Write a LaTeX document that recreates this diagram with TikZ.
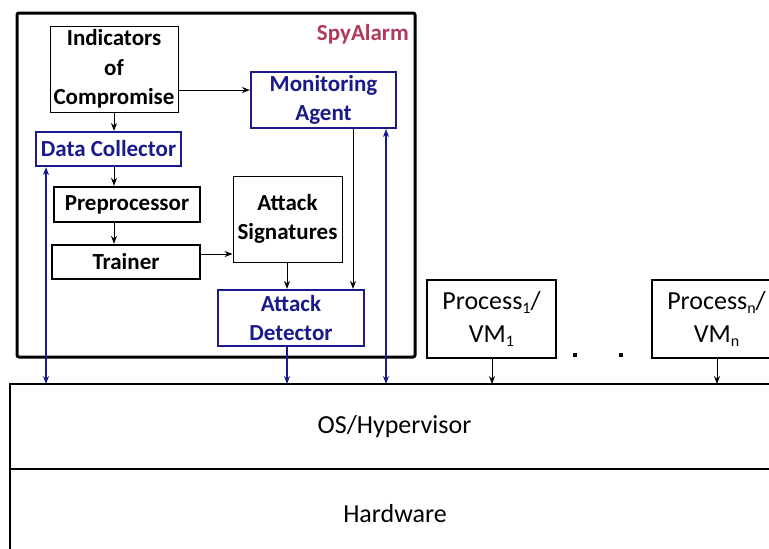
\documentclass[tikz,border=0pt]{standalone}
\usepackage{fontspec}
\setmainfont{Carlito}
\usetikzlibrary{arrows.meta}
\definecolor{navy}{RGB}{26,26,140}
\definecolor{spy}{RGB}{176,58,91}
\newcommand{\lowidx}[1]{\raisebox{-4.5pt}{\fontsize{16}{16}\selectfont #1}}
\tikzset{
  lbl/.style={font=\bfseries\fontsize{23}{29.5}\selectfont, align=center, inner sep=0pt},
  thinbox/.style={draw=black, line width=0.9pt, rectangle, lbl},
  bluebox/.style={draw=navy, line width=2.2pt, rectangle, lbl, text=navy},
  blackbox/.style={draw=black, line width=2.4pt, rectangle, lbl},
  procbox/.style={draw=black, line width=2pt, rectangle, align=center, inner sep=0pt,
    font=\fontsize{26}{33}\selectfont},
  layertext/.style={font=\fontsize{26}{30}\selectfont, inner sep=0pt},
  arr/.style={-{Stealth[length=8pt,width=6pt]}, line width=0.9pt, black},
  barr/.style={-{Stealth[length=8pt,width=6pt]}, line width=1.1pt, navy},
  bdarr/.style={{Stealth[length=8pt,width=6pt]}-{Stealth[length=8pt,width=6pt]}, line width=1.1pt, navy},
}
\begin{document}
\begin{tikzpicture}[x=1pt,y=1pt]
\clip (0,0) rectangle (769,-549);
\fill[white] (0,0) rectangle (769,-549);

% SpyAlarm enclosure
\draw[line width=3pt, rounded corners=2pt] (17,-13) rectangle (415,-357);
\node[font=\bfseries\fontsize{23}{26}\selectfont, text=spy, anchor=east, inner sep=0pt] (title) at (409,-34) {SpyAlarm};

% components
\node[thinbox, minimum width=128pt, minimum height=86pt] (ioc) at (114,-69) {Indicators\\of\\Compromise};
\node[bluebox, minimum width=145pt, minimum height=56pt] (ma) at (323.5,-100) {Monitoring\\Agent};
\node[bluebox, minimum width=145pt, minimum height=34pt] (dc) at (108.5,-149) {Data Collector};
\node[blackbox, minimum width=146pt, minimum height=35pt] (pre) at (127,-204.5) {Preprocessor};
\node[blackbox, minimum width=148pt, minimum height=34pt] (tr) at (126,-262) {Trainer};
\node[thinbox, minimum width=109pt, minimum height=86pt] (as) at (287.5,-219) {Attack\\Signatures};
\node[bluebox, minimum width=146pt, minimum height=56pt] (ad) at (291,-318) {Attack\\Detector};

% system layers
\draw[line width=1.8pt] (10,-384) rectangle (790,-469);
\draw[line width=1.8pt] (10,-469) rectangle (790,-560);
\coordinate (ostop) at (0,-384);
\node[layertext] (os) at (394.5,-427) {OS/Hypervisor};
\node[layertext] (hw) at (395,-514) {Hardware};

% processes / VMs
\node[procbox, minimum width=129pt, minimum height=78pt] (p1) at (491.5,-319) {Process\lowidx{1}/\\VM\lowidx{1}};
\node[procbox, minimum width=129pt, minimum height=78pt] (pn) at (716.5,-319) {Process\lowidx{n}/\\VM\lowidx{n}};
\fill (573,-353) rectangle (577,-357);
\fill (619,-353) rectangle (623,-357);

% flows inside SpyAlarm
\draw[arr] (ioc.east |- 0,-90) -- (ma.west |- 0,-90);
\draw[arr] (ioc.south) -- (dc.north -| ioc.south);
\draw[arr] (dc.south -| ioc.south) -- (pre.north -| ioc.south);
\draw[arr] (pre.south -| ioc.south) -- (tr.north -| ioc.south);
\draw[arr] (tr.east |- 0,-254) -- (as.west |- 0,-254);
\draw[arr] (as.south -| 287,0) -- (ad.north -| 287,0);
\draw[arr] (ma.south -| 353,0) -- (ad.north -| 353,0);

% links to the OS layer
\draw[bdarr] (dc.south -| 46,0) -- (ostop -| 46,0);
\draw[bdarr] (ma.south -| 386,0) -- (ostop -| 386,0);
\draw[barr] (ad.south -| 287,0) -- (ostop -| 287,0);
\draw[arr] (p1.south -| 492,0) -- (ostop -| 492,0);
\draw[arr] (pn.south -| 717,0) -- (ostop -| 717,0);
\end{tikzpicture}
\end{document}
